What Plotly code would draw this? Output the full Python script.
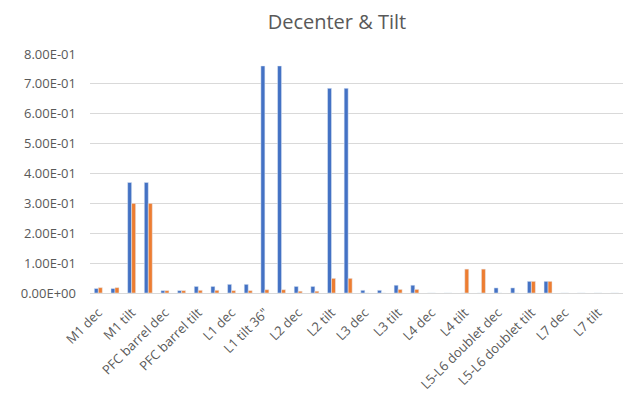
import plotly.graph_objects as go

# Category labels shown on the axis (every other category is labelled, as in the reference)
labels = ["M1 dec", "M1 tilt", "PFC barrel dec", "PFC barrel tilt", "L1 dec", 'L1 tilt 36"',
          "L2 dec", "L2 tilt", "L3 dec", "L3 tilt", "L4 dec", "L4 tilt",
          "L5-L6 doublet dec", "L5-L6 doublet tilt", "L7 dec", "L7 tilt"]

# 32 category positions (labelled ones at even positions)
positions = list(range(32))

series1 = [0.015, 0.015, 0.37, 0.37, 0.008, 0.008, 0.022, 0.022, 0.029, 0.029,
           0.76, 0.76, 0.022, 0.022, 0.685, 0.685, 0.009, 0.009, 0.026, 0.026,
           0.0, 0.0, 0.0, 0.0, 0.017, 0.017, 0.039, 0.039, 0.0, 0.0, 0.0, 0.0]
series2 = [0.018, 0.018, 0.30, 0.30, 0.008, 0.008, 0.009, 0.009, 0.008, 0.008,
           0.011, 0.011, 0.006, 0.006, 0.049, 0.049, 0.0, 0.0, 0.012, 0.012,
           0.0, 0.0, 0.08, 0.08, 0.0, 0.0, 0.039, 0.039, 0.0, 0.0, 0.0, 0.0]

y_tickvals = [0.0, 0.1, 0.2, 0.3, 0.4, 0.5, 0.6, 0.7, 0.8]
y_ticktext = ["0.00E+00", "1.00E-01", "2.00E-01", "3.00E-01", "4.00E-01",
              "5.00E-01", "6.00E-01", "7.00E-01", "8.00E-01"]

txt = "#595959"
fig = go.Figure()
fig.add_trace(go.Bar(x=positions, y=series1, marker_color="#4472C4", name="Series1"))
fig.add_trace(go.Bar(x=positions, y=series2, marker_color="#ED7D31", name="Series2"))

fig.update_layout(
    width=624, height=401,
    margin=dict(l=90, r=1, t=54, b=108),
    paper_bgcolor="white", plot_bgcolor="white",
    barmode="group", bargap=0.52, bargroupgap=0,
    showlegend=False,
    font=dict(family="Open Sans", color=txt, size=13),
    title=dict(text="Decenter & Tilt", x=0.54, xanchor="center", y=0.945, yanchor="middle",
               yref="container", font=dict(size=20, color=txt, family="Open Sans")),
)
fig.update_xaxes(range=[-0.5, 31.5], tickmode="array", tickvals=positions[::2], ticktext=labels,
                 tickangle=-45, showgrid=False, zeroline=False, showline=True,
                 linecolor="#d9d9d9", linewidth=1, ticks="", automargin=False,
                 ticklabelstandoff=6, tickfont=dict(size=13, color=txt))
fig.update_yaxes(range=[0, 0.8], tickmode="array", tickvals=y_tickvals, ticktext=y_ticktext,
                 showgrid=True, gridcolor="#d9d9d9", gridwidth=1, zeroline=False,
                 showline=False, ticks="", automargin=False, ticklabelstandoff=13,
                 tickfont=dict(size=13, color=txt))

fig.write_html("out.html")
